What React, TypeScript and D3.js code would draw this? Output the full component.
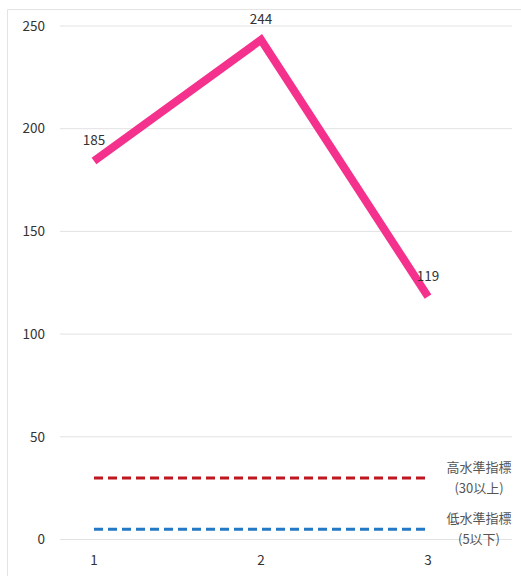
import React from "react";
import * as d3 from "d3";

const categories = [1, 2, 3];
const values = [185, 244, 119];
const yTicks = [0, 50, 100, 150, 200, 250];
const highLevel = 30;
const lowLevel = 5;
const highLabel = ["高水準指標", "(30以上)"];
const lowLabel = ["低水準指標", "(5以下)"];

const W = 521;
const H = 576;
const FONT = "'Noto Sans CJK JP', 'Noto Sans', sans-serif";

export default function App() {
  const x = d3.scaleLinear().domain([1, 3]).range([94, 428]);
  const y = d3.scaleLinear().domain([0, 250]).range([539.5, 26]);
  const line = d3
    .line<number>()
    .x((_, i) => x(categories[i]))
    .y((d) => y(d) + 1.5);
  const xMin = x(categories[0]);
  const xMax = x(categories[categories.length - 1]);

  return (
    <svg
      width={W}
      height={H}
      style={{ position: "absolute", left: 0, top: 0, background: "#fff" }}
      fontFamily={FONT}
    >
      <rect x={0} y={0} width={W} height={H} fill="#fff" />
      <line x1={7.5} x2={W} y1={9.5} y2={9.5} stroke="#e4e4e4" />
      <line x1={7.5} x2={7.5} y1={9.5} y2={H} stroke="#e4e4e4" />
      {yTicks.map((t) => (
        <g key={t}>
          <line x1={60} x2={512} y1={y(t)} y2={y(t)} stroke="#e2e2e2" strokeWidth={1} />
          <text x={45} y={y(t)} dy="0.35em" textAnchor="end" fontSize={13.5} fill="#333">
            {t}
          </text>
        </g>
      ))}
      {categories.map((c) => (
        <text key={c} x={x(c)} y={560} dy="0.35em" textAnchor="middle" fontSize={13.5} fill="#333">
          {c}
        </text>
      ))}
      <line
        x1={xMin}
        x2={xMax}
        y1={y(highLevel)}
        y2={y(highLevel)}
        stroke="#c0161f"
        strokeWidth={3}
        strokeDasharray="9 5"
      />
      <line
        x1={xMin}
        x2={xMax}
        y1={y(lowLevel)}
        y2={y(lowLevel)}
        stroke="#2379c6"
        strokeWidth={3}
        strokeDasharray="9 5"
      />
      {highLabel.map((s, i) => (
        <text key={s} x={479} y={467 + i * 21} dy="0.35em" textAnchor="middle" fontSize={13} fill="#555">
          {s}
        </text>
      ))}
      {lowLabel.map((s, i) => (
        <text key={s} x={479} y={518 + i * 21} dy="0.35em" textAnchor="middle" fontSize={13} fill="#555">
          {s}
        </text>
      ))}
      <path
        d={line(values) || ""}
        fill="none"
        stroke="#f5318e"
        strokeWidth={8}
        strokeLinejoin="miter"
        strokeLinecap="butt"
      />
      {values.map((v, i) => (
        <text
          key={i}
          x={x(categories[i])}
          y={y(v) - 19}
          dy="0.35em"
          textAnchor="middle"
          fontSize={13.5}
          fill="#333"
        >
          {v}
        </text>
      ))}
    </svg>
  );
}
